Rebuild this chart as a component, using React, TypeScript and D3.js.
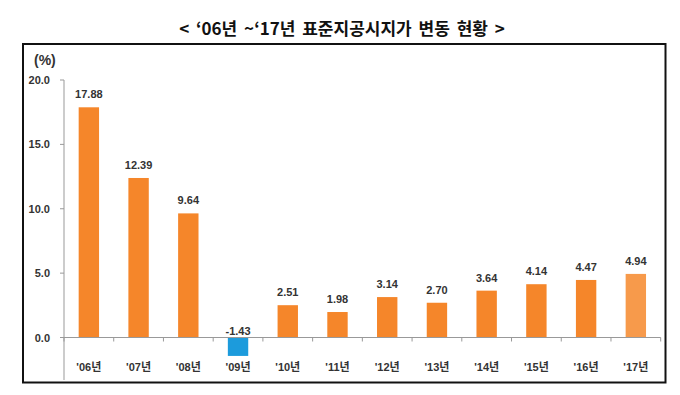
import React from "react";
import * as d3 from "d3";

const categories = ["'06년", "'07년", "'08년", "'09년", "'10년", "'11년", "'12년", "'13년", "'14년", "'15년", "'16년", "'17년"];
const values = [17.88, 12.39, 9.64, -1.43, 2.51, 1.98, 3.14, 2.7, 3.64, 4.14, 4.47, 4.94];
const valueLabels = ["17.88", "12.39", "9.64", "-1.43", "2.51", "1.98", "3.14", "2.70", "3.64", "4.14", "4.47", "4.94"];
const yTicks = [0, 5, 10, 15, 20];
const yDomain = [-3.3, 20];
const title = "< ‘06년 ~‘17년 표준지공시지가 변동 현황 >";
const unitLabel = "(%)";

const W = 680;
const H = 395;
const font = "'Liberation Sans', Arial, 'Noto Sans CJK KR', sans-serif";

export default function App() {
  const left = 64;
  const right = 660.7;
  const top = 80;
  const bottom = 380;

  const x = d3.scaleBand<string>().domain(categories).range([left, right]).paddingInner(0.59).paddingOuter(0.295);
  const y = d3.scaleLinear().domain(yDomain).range([bottom, top]);
  const step = x.step();
  const y0 = y(0);

  const colorFor = (v: number, i: number) => {
    if (v < 0) return "#1C9BDC";
    if (i === values.length - 1) return "#F79A4B";
    return "#F5862A";
  };

  return (
    <svg width={W} height={H} style={{ position: "absolute", left: 0, top: 0, background: "#fff" }}>
      <rect x={0} y={0} width={W} height={H} fill="#fff" />
      <text x={342} y={35} textAnchor="middle" fontFamily="'Noto Sans CJK KR', sans-serif" fontWeight={700} fontSize={17} wordSpacing={3} fill="#111">
        {title}
      </text>
      <rect x={23} y={44} width={642.5} height={338.5} fill="none" stroke="#111" strokeWidth={2} />
      <text x={34} y={65} fontFamily={font} fontWeight={700} fontSize={14} fill="#333">
        {unitLabel}
      </text>
      {/* y axis */}
      <line x1={left} x2={left} y1={top} y2={bottom} stroke="#999" strokeWidth={1} />
      {yTicks.map((t) => (
        <g key={t}>
          <line x1={left - 4} x2={left} y1={y(t)} y2={y(t)} stroke="#999" />
          <text x={50} y={y(t) + 4} textAnchor="end" fontFamily={font} fontWeight={700} fontSize={11} fill="#333">
            {t.toFixed(1)}
          </text>
        </g>
      ))}
      {/* bars */}
      {values.map((v, i) => {
        const c = categories[i];
        const bx = x(c)!;
        const yTop = y(Math.max(0, v));
        const yBot = y(Math.min(0, v));
        return <rect key={c} x={bx} y={yTop} width={x.bandwidth()} height={yBot - yTop} fill={colorFor(v, i)} />;
      })}
      {/* zero line */}
      <line x1={left} x2={right} y1={y0} y2={y0} stroke="#999" strokeWidth={1} />
      {d3.range(categories.length + 1).map((i) => (
        <line key={i} x1={left + i * step} x2={left + i * step} y1={y0} y2={y0 + 4} stroke="#999" />
      ))}
      {/* value labels */}
      {values.map((v, i) => {
        const c = categories[i];
        const cx = x(c)! + x.bandwidth() / 2;
        const ly = v >= 0 ? y(v) - 9 : y0 - 3;
        return (
          <text key={c} x={cx} y={ly} textAnchor="middle" fontFamily={font} fontWeight={700} fontSize={11} fill="#333">
            {valueLabels[i]}
          </text>
        );
      })}
      {/* category labels */}
      {categories.map((c) => (
        <text key={c} x={x(c)! + x.bandwidth() / 2} y={371} textAnchor="middle" fontFamily={font} fontWeight={700} fontSize={11} fill="#333">
          {c}
        </text>
      ))}
    </svg>
  );
}
